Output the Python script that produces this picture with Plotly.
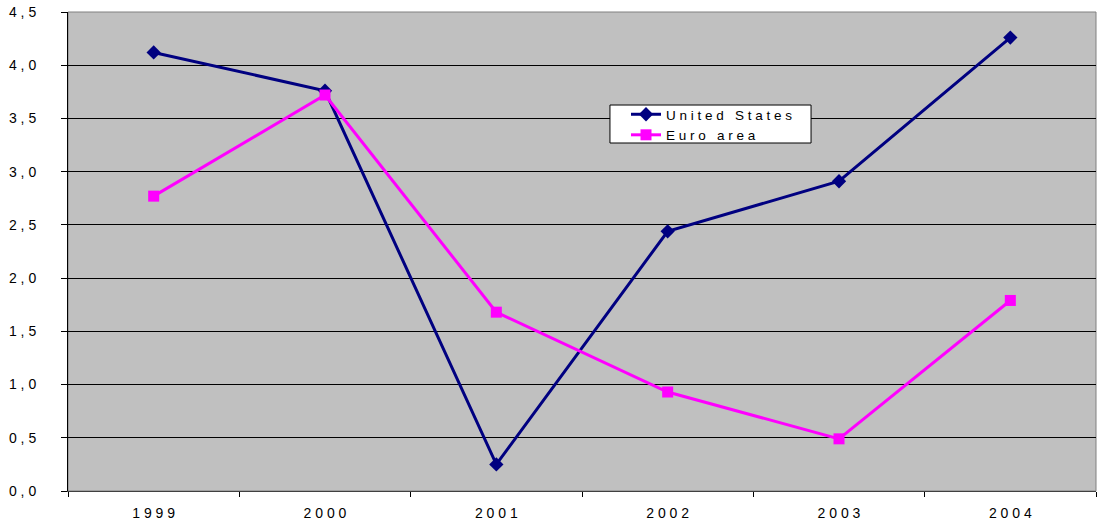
import plotly.graph_objects as go

years = ["1999", "2000", "2001", "2002", "2003", "2004"]
us_values = [4.12, 3.76, 0.25, 2.44, 2.91, 4.26]
euro_values = [2.77, 3.72, 1.68, 0.93, 0.49, 1.79]
y_ticks = [0, 0.5, 1.0, 1.5, 2.0, 2.5, 3.0, 3.5, 4.0, 4.5]


def spaced(s):
    return " ".join(s)


fig = go.Figure()
fig.add_trace(go.Scatter(
    x=years, y=us_values, name=spaced("United") + "   " + spaced("States"),
    mode="lines+markers",
    line=dict(color="#000080", width=3),
    marker=dict(symbol="diamond", size=11, color="#000080"),
))
fig.add_trace(go.Scatter(
    x=years, y=euro_values, name=spaced("Euro") + "   " + spaced("area"),
    mode="lines+markers",
    line=dict(color="#FF00FF", width=3),
    marker=dict(symbol="square", size=11, color="#FF00FF"),
))

fig.update_layout(
    width=1098, height=523,
    margin=dict(l=68, r=2, t=12, b=32),
    paper_bgcolor="white",
    plot_bgcolor="#C0C0C0",
    font=dict(family="Liberation Sans, Arial, sans-serif", size=14, color="#000000"),
    showlegend=True,
    legend=dict(
        x=0.5428, y=0.8184, xanchor="left", yanchor="top",
        bgcolor="rgba(0,0,0,0)", borderwidth=0,
        font=dict(size=13.5), tracegroupgap=0,
        itemwidth=30,
    ),
)

fig.update_xaxes(
    type="category",
    tickmode="array", tickvals=years, ticktext=[spaced(y) for y in years],
    tickson="boundaries", ticks="outside", ticklen=5, tickcolor="black",
    ticklabelstandoff=9,
    showgrid=False, showline=True, linecolor="#404040", linewidth=1,
    mirror=False, range=[-0.5, 5.5], zeroline=False,
)
fig.update_yaxes(
    range=[0, 4.5],
    tickmode="array", tickvals=y_ticks,
    ticktext=[f"{v:.1f}".replace(".", " , ") for v in y_ticks],
    ticks="outside", ticklen=6, tickcolor="black",
    ticklabelstandoff=22,
    showgrid=True, gridcolor="black", gridwidth=1,
    showline=True, linecolor="black", linewidth=1,
    zeroline=False,
)

# plot-area border on top/right (grey)
fig.add_shape(type="rect", xref="paper", yref="paper", x0=0, y0=0, x1=1, y1=1,
              line=dict(color="#808080", width=1), fillcolor="rgba(0,0,0,0)", layer="below")

# legend frame (white box with black border)
fig.add_shape(type="rect", xref="paper", yref="paper",
              x0=0.5272, x1=0.7228, y0=0.7265, y1=0.8058,
              line=dict(color="black", width=1), fillcolor="white", layer="above")

fig.write_html("out.html")
